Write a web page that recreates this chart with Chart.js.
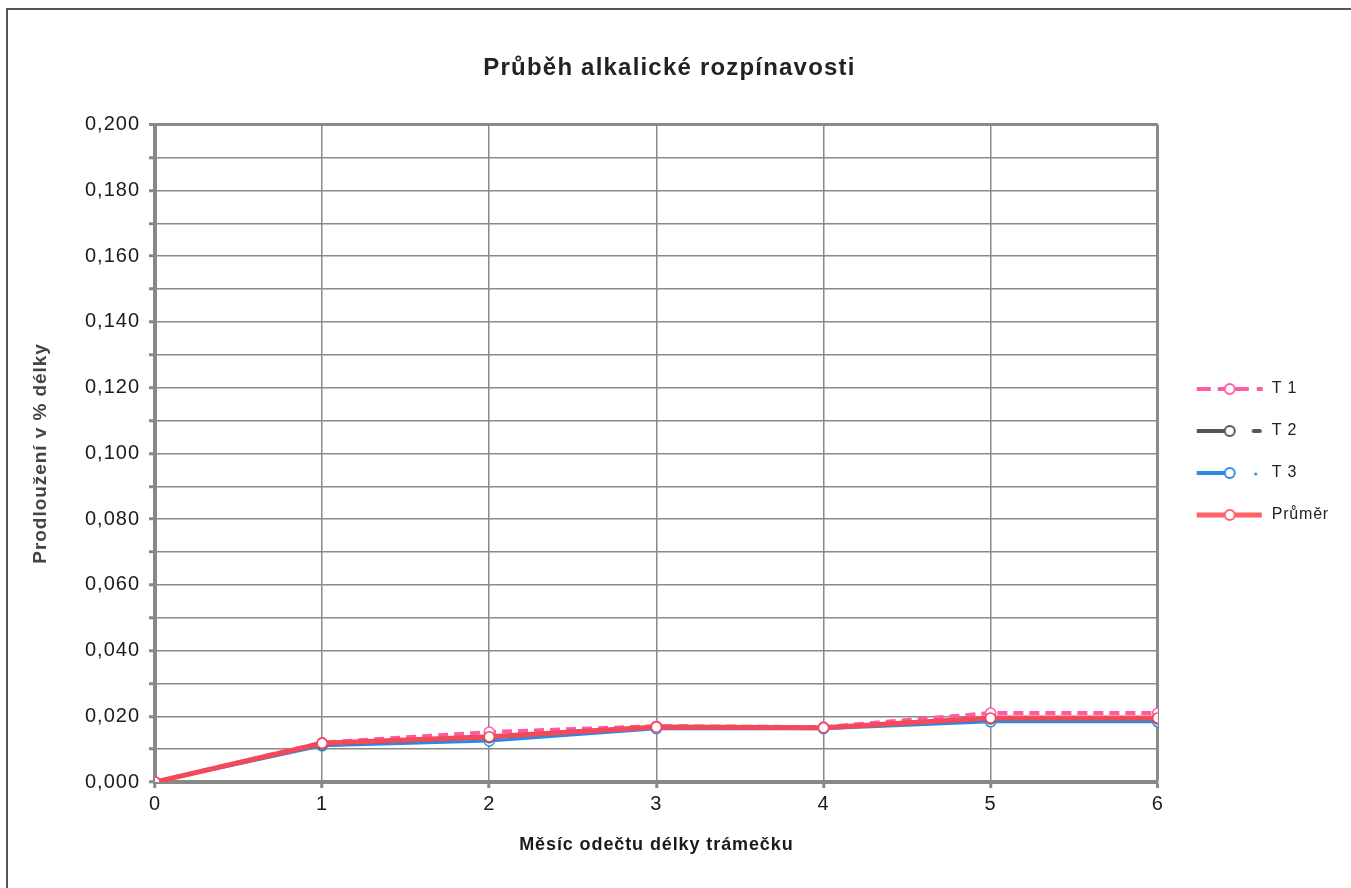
<!DOCTYPE html>
<html><head><meta charset="utf-8">
<script src="https://cdn.jsdelivr.net/npm/chart.js@4.4.1/dist/chart.umd.min.js"></script>
<style>
html,body{margin:0;padding:0;background:#fff;overflow:hidden;}
#wrap{position:absolute;left:0;top:0;width:1351px;height:888px;}
#frame{position:absolute;left:6px;top:8px;width:1360px;height:900px;border-top:2px solid #555;border-left:2px solid #555;pointer-events:none;}
</style></head><body>
<div id="wrap"><canvas id="c" width="1351" height="888"></canvas></div>
<div id="frame"></div>
<script>
const months = [0, 1, 2, 3, 4, 5, 6];
const t1 = [0, 0.012, 0.0152, 0.017, 0.0167, 0.021, 0.021];
const t2 = [0, 0.0115, 0.0135, 0.0168, 0.0166, 0.0192, 0.0192];
const t3 = [0, 0.011, 0.0125, 0.0162, 0.0162, 0.0183, 0.0183];
const avg = [0, 0.0118, 0.0138, 0.0167, 0.0165, 0.0195, 0.0195];
const yTickLabels = ['0,000','0,020','0,040','0,060','0,080','0,100','0,120','0,140','0,160','0,180','0,200'];
const seriesNames = ['T 1', 'T 2', 'T 3', 'Průměr'];

const FONT = "'Liberation Sans', Arial, sans-serif";

// slight letter spacing proportional to font size (scanned print look)
const canvas = document.getElementById('c');
const ctx0 = canvas.getContext('2d');
function setLS(c) {
  const m = /(\d+(?:\.\d+)?)px/.exec(c.font);
  c.letterSpacing = (m ? (parseFloat(m[1]) * 0.05).toFixed(2) : '0') + 'px';
}
['fillText', 'strokeText', 'measureText'].forEach(fn => {
  const orig = CanvasRenderingContext2D.prototype[fn];
  ctx0[fn] = function (...args) { setLS(this); return orig.apply(this, args); };
});

// legend sample glyphs (line + marker), style only
function legendImg(color, kind, lw) {
  const c = document.createElement('canvas');
  c.width = 80; c.height = 16;
  const g = c.getContext('2d');
  g.strokeStyle = color; g.fillStyle = color; g.lineWidth = lw; g.lineCap = 'butt';
  const seg = (a, b) => { g.beginPath(); g.moveTo(a, 8); g.lineTo(b, 8); g.stroke(); };
  if (kind === 'dash') { seg(13, 27); seg(34, 48); seg(52, 65); seg(73, 79); }
  else if (kind === 'brokenDash') { seg(13, 51); g.lineCap = 'round'; seg(70, 76); }
  else if (kind === 'brokenDot') { seg(13, 51); g.beginPath(); g.arc(72, 9, 1.6, 0, Math.PI * 2); g.fill(); }
  else { seg(13, 78); }
  g.fillStyle = '#fff'; g.lineWidth = 2;
  g.beginPath(); g.arc(46, 8, 5, 0, Math.PI * 2); g.fill(); g.stroke();
  return c;
}

const styles = [
  {color: '#ff5aa5', dash: [10, 6], lw: 4, order: 1},
  {color: '#555555', dash: [], lw: 3, order: 2},
  {color: '#2b8be3', dash: [], lw: 3, order: 3},
  {color: '#f4495b', dash: [], lw: 5, order: 0}
];
const seriesData = [t1, t2, t3, avg];

const datasets = seriesData.map((vals, i) => ({
  label: seriesNames[i],
  data: months.map((m, j) => ({x: m, y: vals[j]})),
  borderColor: styles[i].color,
  borderWidth: styles[i].lw,
  borderDash: styles[i].dash,
  backgroundColor: '#fff',
  pointBackgroundColor: '#fff',
  pointBorderColor: styles[i].color,
  pointBorderWidth: 1.5,
  pointRadius: 5,
  tension: 0,
  fill: false,
  order: styles[i].order
}));

const legendColors = ['#ff5aa5', '#555555', '#2b8be3', '#ff6168'];
const legendKinds = ['dash', 'brokenDash', 'brokenDot', 'solid'];
const legendImgs = legendColors.map((col, i) => legendImg(col, legendKinds[i], i === 3 ? 5 : 4));

new Chart(canvas, {
  type: 'line',
  data: {datasets},
  options: {
    responsive: false,
    animation: false,
    layout: {padding: {left: 0, right: 12, top: 0, bottom: 0}},
    plugins: {
      tooltip: {enabled: false},
      title: {
        display: true,
        text: 'Průběh alkalické rozpínavosti',
        color: '#222',
        font: {family: FONT, size: 24, weight: 'bold'},
        padding: {top: 54, bottom: 42}
      },
      legend: {
        position: 'right',
        align: 'center',
        title: {display: true, text: ' ', font: {size: 10}, padding: 2},
        labels: {
          usePointStyle: true,
          pointStyleWidth: 80,
          padding: 26,
          color: '#222',
          font: {family: FONT, size: 16},
          generateLabels: (chart) => seriesNames.map((n, i) => ({
            text: n,
            pointStyle: legendImgs[i],
            fillStyle: '#fff',
            strokeStyle: styles[i].color,
            lineWidth: 0,
            hidden: false,
            datasetIndex: i,
            fontColor: '#222'
          }))
        }
      }
    },
    scales: {
      x: {
        type: 'linear',
        min: 0, max: 6,
        afterFit: (s) => { s.height = 106; },
        ticks: {stepSize: 1, color: '#1a1a1a', padding: 4, font: {family: FONT, size: 20}},
        grid: {color: '#8a8a8a', lineWidth: (ctx) => ctx.index === 6 ? 3 : 1.5, tickLength: 6, tickColor: '#888', tickWidth: 3},
        border: {color: '#888', width: 4},
        title: {display: true, text: 'Měsíc odečtu délky trámečku', color: '#1a1a1a', font: {family: FONT, size: 18, weight: 'bold'}, padding: {top: 0, bottom: 32}}
      },
      y: {
        min: 0, max: 0.2,
        afterFit: (s) => { s.width = 155; },
        ticks: {
          stepSize: 0.01,
          autoSkip: false,
          color: '#1a1a1a',
          padding: 9,
          font: {family: FONT, size: 20},
          callback: (v, idx) => idx % 2 === 0 ? yTickLabels[idx / 2] : ''
        },
        grid: {color: '#8a8a8a', lineWidth: (ctx) => ctx.index === 20 ? 3 : 1.5, tickLength: 6, tickColor: '#888', tickWidth: 3},
        border: {color: '#888', width: 4},
        title: {display: true, text: 'Prodloužení v % délky', color: '#444', font: {family: FONT, size: 19, weight: 'bold'}, padding: {top: 29, bottom: 0}}
      }
    }
  }
});
</script>
</body></html>
